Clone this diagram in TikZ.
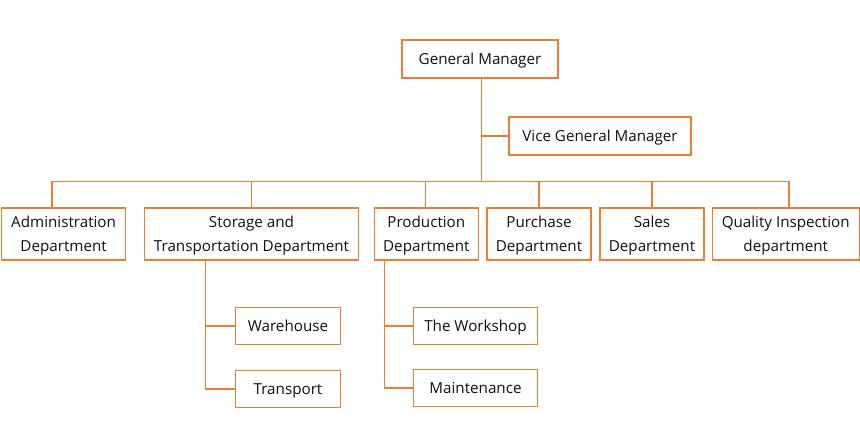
\documentclass[tikz,border=0pt]{standalone}
\usepackage{fontspec}
\setmainfont{Open Sans}
\definecolor{orgline}{HTML}{ED7D31}
\definecolor{txt}{HTML}{111111}
\begin{document}
\begin{tikzpicture}[x=1bp,y=-1bp,
  box/.style={draw=orgline,line width=1.2bp,fill=white,inner sep=0pt,align=center,
    font=\fontsize{15.2bp}{24bp}\selectfont,text=txt,text depth=0bp},
  link/.style={draw=orgline,line width=1.2bp}]
\useasboundingbox (0,0) rectangle (860,447);
\node[box,minimum width=156bp,minimum height=38bp] (gm) at (480,59) {General Manager};
\node[box,minimum width=182bp,minimum height=38bp] (vgm) at (600,136) {Vice General Manager};
\node[box,minimum width=124bp,minimum height=52bp] (admin) at (63.6,234) {Administration\\Department};
\node[box,minimum width=214bp,minimum height=52bp] (storage) at (251.5,234) {Storage and\\Transportation Department};
\node[box,minimum width=104bp,minimum height=52bp] (prod) at (426.3,234) {Production\\Department};
\node[box,minimum width=104bp,minimum height=52bp] (purch) at (539,234) {Purchase\\Department};
\node[box,minimum width=104bp,minimum height=52bp] (sales) at (652,234) {Sales\\Department};
\node[box,minimum width=147bp,minimum height=52bp] (qual) at (785.7,234) {Quality Inspection\\department};
\node[box,minimum width=105bp,minimum height=37bp] (ware) at (288,326) {Warehouse};
\node[box,minimum width=105bp,minimum height=37bp] (trans) at (288,389) {Transport};
\node[box,minimum width=124bp,minimum height=37bp] (work) at (475.5,326) {The Workshop};
\node[box,minimum width=124bp,minimum height=37bp] (maint) at (475.5,388) {Maintenance};
\coordinate (bus) at (481.5,181.5);
\coordinate (gmdrop) at (481.5,78);
\coordinate (admdrop) at (52,208);
\coordinate (quadrop) at (789,208);
\coordinate (stdrop) at (205.3,260);
\coordinate (prdrop) at (384.3,260);
\draw[link] (gmdrop) -- (bus);
\draw[link] (gmdrop |- vgm.west) -- (vgm.west);
\draw[link] (admdrop) |- (quadrop |- bus) -- (quadrop);
\draw[link] (storage.north) -- (storage.north |- bus);
\draw[link] ([xshift=-1bp]prod.north) -- ([xshift=-1bp]prod.north |- bus);
\draw[link] (purch.north) -- (purch.north |- bus);
\draw[link] (sales.north) -- (sales.north |- bus);
\draw[link] (stdrop) |- (trans.west);
\draw[link] (stdrop |- ware.west) -- (ware.west);
\draw[link] (prdrop) |- (maint.west);
\draw[link] (prdrop |- work.west) -- (work.west);
\end{tikzpicture}
\end{document}
